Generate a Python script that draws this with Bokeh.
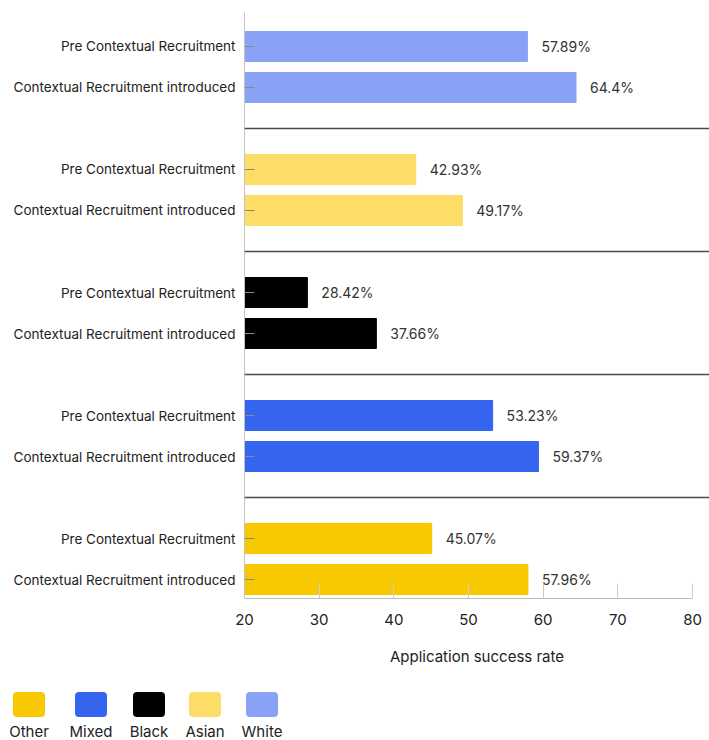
from bokeh.plotting import figure
from bokeh.models import Range1d, FixedTicker, Span, ColumnDataSource, Div
from bokeh.layouts import column
from bokeh.core.properties import value
from bokeh.embed import file_html
from bokeh.resources import INLINE

groups = ["White", "Asian", "Black", "Mixed", "Other"]
pre_values = [57.89, 42.93, 28.42, 53.23, 45.07]
post_values = [64.4, 49.17, 37.66, 59.37, 57.96]
colors = ["#89a2f5", "#fcdd68", "#000000", "#3564ef", "#f8c800"]
row_labels = ["Pre Contextual Recruitment", "Contextual Recruitment introduced"]
x_ticks = [20, 30, 40, 50, 60, 70, 80]
x_title = "Application success rate"
legend_order = ["Other", "Mixed", "Black", "Asian", "White"]

FONT = "Inter"
PITCH = 3  # rows per group (2 bars + gap)

ys, lefts, rights, cols, texts = [], [], [], [], []
for g, name in enumerate(groups):
    for k, v in enumerate([pre_values[g], post_values[g]]):
        ys.append(g * PITCH + k)
        lefts.append(x_ticks[0])
        rights.append(v)
        cols.append(colors[g])
        texts.append(f"{v}%")
src = ColumnDataSource(dict(y=ys, left=lefts, right=rights, color=cols, label=texts))

n = len(groups)
p = figure(width=709, height=675, output_backend="svg", toolbar_location=None,
           x_range=Range1d(20, 82.277),
           y_range=Range1d((n - 1) * PITCH + 1 + 0.463, -0.829),
           min_border_left=244, min_border_right=0, min_border_top=12,
           min_border_bottom=77)
p.outline_line_color = None
p.xgrid.visible = False
p.ygrid.visible = False

p.hbar(y="y", left="left", right="right", height=0.732, color="color", source=src)
p.text(x="right", y="y", text="label", source=src, x_offset=14,
       text_baseline="middle", text_align="left", text_font=value(FONT),
       text_font_size="14px", text_color="#333333")

for g in range(n - 1):
    p.add_layout(Span(location=g * PITCH + 2, dimension="width",
                      line_color="#4a4a4a", line_width=1.5))

# x axis
xa = p.xaxis[0]
xa.ticker = FixedTicker(ticks=x_ticks)
xa.bounds = (x_ticks[0], x_ticks[-1])
xa.axis_line_color = "#bbbbbb"
xa.major_tick_line_color = "#cccccc"
xa.major_tick_in = 15
xa.major_tick_out = 0
xa.minor_tick_line_color = None
xa.major_label_text_font = FONT
xa.major_label_text_font_size = "15px"
xa.major_label_text_color = "#222222"
xa.major_label_standoff = 15
xa.axis_label = x_title
xa.axis_label_text_font = FONT
xa.axis_label_text_font_size = "15px"
xa.axis_label_text_font_style = "normal"
xa.axis_label_text_color = "#222222"
xa.axis_label_standoff = 19

# y axis
ya = p.yaxis[0]
tick_pos = [g * PITCH + k for g in range(n) for k in range(2)]
ya.ticker = FixedTicker(ticks=tick_pos)
ya.major_label_overrides = {t: row_labels[t % PITCH] for t in tick_pos}
ya.axis_line_color = "#c4c4c4"
ya.major_tick_line_color = "#888888"
ya.major_tick_in = 10
ya.major_tick_out = 0
ya.minor_tick_line_color = None
ya.major_label_text_font = FONT
ya.major_label_text_font_size = "13.5px"
ya.major_label_text_color = "#222222"
ya.major_label_standoff = 9

# legend strip (HTML, below the chart)
color_of = dict(zip(groups, colors))
leg_x = [29, 91, 149, 205, 262]
items = []
for cx, name in zip(leg_x, legend_order):
    items.append(
        f'<div style="position:absolute;left:{cx - 16}px;top:17px;width:32px;height:25px;'
        f'border-radius:4px;background:{color_of[name]};"></div>'
        f'<div style="position:absolute;left:{cx - 40}px;top:47px;width:80px;text-align:center;'
        f'font-family:{FONT};font-size:15px;line-height:20px;color:#222222;">{name}</div>'
    )
legend = Div(text='<div style="position:relative;width:709px;height:65px;">' + "".join(items) + "</div>",
             width=709, height=65, margin=0)

layout = column(p, legend, spacing=0)
open("out.html", "w").write(file_html(layout, INLINE))
